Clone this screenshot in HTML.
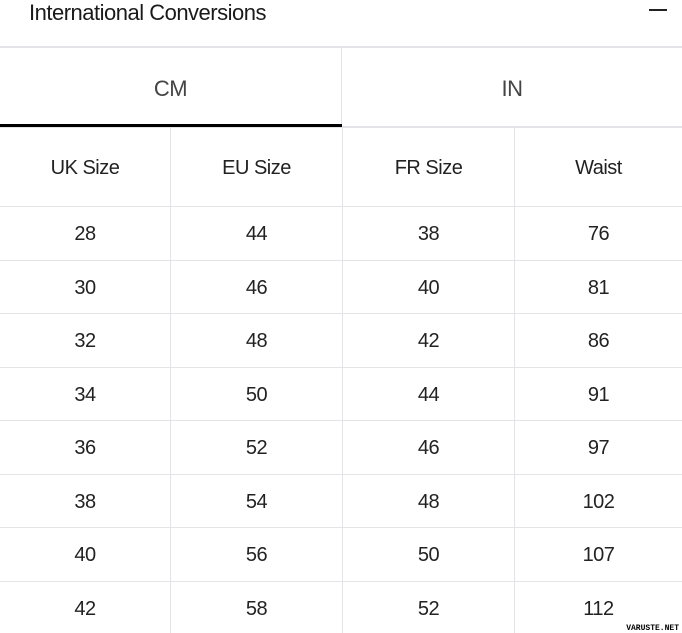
<!DOCTYPE html>
<html><head><style>
body{margin:0;width:682px;height:633px;overflow:hidden;background:#fff;font-family:"Liberation Sans",sans-serif;color:#1a1a1a;position:relative}
.t{position:absolute;left:29px;top:0px;font-size:22px;letter-spacing:-0.5px}
.m{position:absolute;left:649px;top:9px;width:18px;height:1.5px;background:#222}
.hl{position:absolute;left:0;width:682px;background:#e2e4e8}
.vl{position:absolute;width:1px;background:#e2e4e8}
.c{position:absolute;text-align:center;font-size:20px;letter-spacing:-0.5px;color:#222}
.wm{position:absolute;right:3px;bottom:0;font-size:8px;font-family:"Liberation Mono",monospace;color:#000;font-weight:bold}
</style></head><body>
<div class="t">International Conversions</div>
<div class="m"></div>
<div class="hl" style="top:46px;height:2px"></div>
<div class="vl" style="left:341px;top:48px;height:79px"></div>
<div class="c" style="left:0;width:341px;top:76px;font-size:22px;color:#444">CM</div>
<div class="c" style="left:342px;width:340px;top:76px;font-size:22px;color:#444">IN</div>
<div class="hl" style="top:126px;height:2px"></div>
<div style="position:absolute;left:0;top:124px;width:342px;height:3px;background:#000"></div>
<div class="vl" style="left:170px;top:128px;height:505px"></div>
<div class="vl" style="left:342px;top:128px;height:505px"></div>
<div class="vl" style="left:514px;top:128px;height:505px"></div>
<div class="c" style="left:0;width:170px;top:157px">UK Size</div>
<div class="c" style="left:171px;width:171px;top:157px">EU Size</div>
<div class="c" style="left:343px;width:171px;top:157px">FR Size</div>
<div class="c" style="left:515px;width:167px;top:157px">Waist</div>
<div id="rows"></div>
<script>
var d=[[28,44,38,76],[30,46,40,81],[32,48,42,86],[34,50,44,91],[36,52,46,97],[38,54,48,102],[40,56,50,107],[42,58,52,112]];
var L=[0,171,343,515],W=[170,171,171,167],h='';
for(var i=0;i<8;i++){var y=206+i*53.5;h+='<div class="hl" style="top:'+Math.round(y)+'px;height:1px"></div>';
for(var j=0;j<4;j++)h+='<div class="c" style="left:'+L[j]+'px;width:'+W[j]+'px;top:'+Math.round(y+17)+'px">'+d[i][j]+'</div>';}
document.getElementById('rows').innerHTML=h;
</script>
<div class="wm">VARUSTE.NET</div>
</body></html>
